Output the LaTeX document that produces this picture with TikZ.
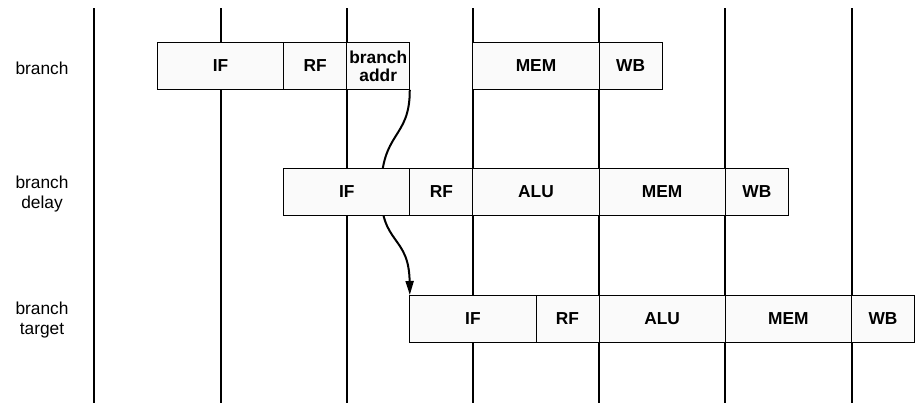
\documentclass[tikz,border=0pt]{standalone}
\usepackage{fontspec}
\setmainfont{Liberation Sans}
\usetikzlibrary{arrows.meta}

\tikzset{every picture/.style={line width=0.75pt}}
\tikzset{
  stage/.style={draw, fill=gray!4, outer sep=0pt, inner sep=0pt, anchor=north west,
    minimum height=35.6pt, align=center, font=\bfseries\fontsize{13}{13.5}\selectfont},
  fullcyc/.style={stage, minimum width=94.65pt},
  halfcyc/.style={stage, minimum width=47.3pt},
  rowlabel/.style={align=center, font=\fontsize{13}{15}\selectfont},
  clockline/.style={line width=1.5pt}
}

\begin{document}
\begin{tikzpicture}[x=0.75pt,y=0.75pt,yscale=-1,xscale=1]
\useasboundingbox (0,0) rectangle (915,403);

%Clock lines
\foreach \cx in {94.3,220.5,346.7,472.9,599.1,725.3,851.5}
  \draw [clockline] (\cx,8.3) -- (\cx,403);

% Row: branch
\node [fullcyc] (bIF) at (157.4,42.3) {IF};
\node [halfcyc] (bRF) at (283.6,42.3) {RF};
\node [halfcyc] (bAddr) at (346.7,42.3) {branch\\addr};
\node [fullcyc] (bMEM) at (472.9,42.3) {MEM};
\node [halfcyc] (bWB) at (599.1,42.3) {WB};

%Curve Lines (drawn before the delay row so its IF box hides it)
\coordinate (midBend) at (381,192);
\draw [line width=1.5pt, -{Triangle[length=10.5pt,width=6pt]}]
  (bAddr.south east) .. controls (410,140) and (381,130) .. (midBend)
  .. controls (381,245) and (409,235) .. (409.8,295);

% Row: branch delay
\node [fullcyc] (dIF) at (283.6,168.3) {IF};
\node [halfcyc] (dRF) at (409.8,168.3) {RF};
\node [fullcyc] (dALU) at (472.9,168.3) {ALU};
\node [fullcyc] (dMEM) at (599.1,168.3) {MEM};
\node [halfcyc] (dWB) at (725.3,168.3) {WB};

% Row: branch target
\node [fullcyc] (tIF) at (409.8,295) {IF};
\node [halfcyc] (tRF) at (536,295) {RF};
\node [fullcyc] (tALU) at (599.1,295) {ALU};
\node [fullcyc] (tMEM) at (725.3,295) {MEM};
\node [halfcyc] (tWB) at (851.5,295) {WB};

% Text Node
\node [rowlabel] (lblBranch) at (42,68) {branch};
% Text Node
\node [rowlabel] (lblDelay) at (42,194) {branch\\delay};
% Text Node
\node [rowlabel] (lblTarget) at (42,320) {branch\\target};

\end{tikzpicture}
\end{document}
